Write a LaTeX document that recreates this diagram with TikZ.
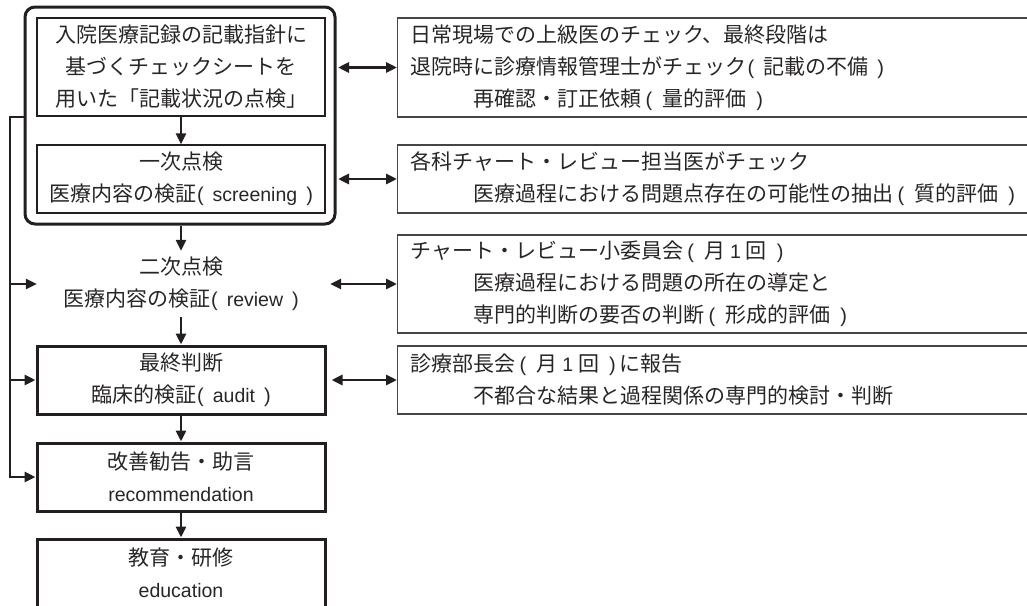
\documentclass[tikz,border=0pt]{standalone}
\usepackage{fontspec}
\setmainfont{Noto Sans CJK JP}
\newfontfamily\lat{Liberation Sans}
\usetikzlibrary{arrows.meta}
\definecolor{ink}{RGB}{35,31,32}
\definecolor{txt}{RGB}{40,37,38}
\definecolor{rline}{RGB}{70,68,68}
\newcommand{\la}[1]{{\lat\fontsize{19.5}{32}\selectfont #1}}
% parenthesised group, spaced as in the reference
\newcommand{\pp}[1]{\kern4pt{\lat\fontsize{20}{32}\selectfont(}\kern10pt #1\kern10pt{\lat\fontsize{20}{32}\selectfont)}\kern4pt}
\newcommand{\pq}[1]{\kern1pt{\lat\fontsize{20}{32}\selectfont(}\kern9pt #1\kern9pt{\lat\fontsize{20}{32}\selectfont)}}
\begin{document}
\begin{tikzpicture}[x=1pt,y=-1pt,
  every node/.style={text=txt, font=\fontsize{21}{32}\selectfont, inner sep=0pt},
  lbox/.style={draw=ink, line width=1.3pt, minimum width=288pt, align=center},
  tbox/.style={draw=ink, line width=3pt, minimum width=288pt, align=center},
  nbox/.style={minimum width=288pt, align=center},
  rbox/.style={draw=rline, line width=1.3pt, anchor=west, text width=622pt, inner xsep=13pt, align=left},
  arr/.style={draw=ink, line width=2.8pt, -{Triangle[length=11pt,width=10pt]}},
  darr/.style={draw=ink, line width=2.8pt, {Triangle[length=11pt,width=10pt]}-{Triangle[length=11pt,width=10pt]}}
]
\useasboundingbox (0,0) rectangle (1027,605);
\clip (0,0) rectangle (1027,605);

% left column
\node[draw=ink, line width=3pt, rounded corners=10pt, minimum width=310pt, minimum height=217pt] (outer) at (180,115.5) {};
\node[lbox, minimum height=98pt] (b1) at (181,67) {入院医療記録の記載指針に\\基づくチェックシートを\\用いた「記載状況の点検」};
\node[lbox, minimum height=68pt] (b2) at (181,179) {一次点検\\医療内容の検証\pq{\la{screening}}};
\node[nbox, minimum height=66pt] (b3) at (181,284) {二次点検\\医療内容の検証\pq{\la{review}}};
\node[tbox, minimum height=68pt] (b4) at (181,380) {最終判断\\臨床的検証\pq{\la{audit}}};
\node[tbox, minimum height=68pt] (b5) at (181,477) {改善勧告・助言\\\la{recommendation}};
\node[tbox, minimum height=68pt] (b6) at (181,573) {教育・研修\\\la{education}};

% right column
\node[rbox, minimum height=99pt] (r1) at (397,67.5) {日常現場での上級医のチェック、最終段階は\\退院時に診療情報管理士がチェック\pq{記載の不備}\\\hspace*{3em}再確認・訂正依頼\pp{量的評価}};
\node[rbox, minimum height=68pt] (r2) at (397,179) {各科チャート・レビュー担当医がチェック\\\hspace*{3em}医療過程における問題点存在の可能性の抽出\pp{質的評価}};
\node[rbox, minimum height=98pt] (r3) at (397,284) {チャート・レビュー小委員会\pp{月\kern5pt\la{1}\kern5pt 回}\\\hspace*{3em}医療過程における問題の所在の導定と\\\hspace*{3em}専門的判断の要否の判断\pp{形成的評価}};
\node[rbox, minimum height=68pt] (r4) at (397,380) {診療部長会\pp{月\kern5pt\la{1}\kern5pt 回}に報告\\\hspace*{3em}不都合な結果と過程関係の専門的検討・判断};

% vertical flow
\draw[arr] (b1.south) -- (b2.north);
\draw[arr] (outer.south -| b3.north) -- (b3.north);
\draw[arr] (b3.south) -- (b4.north);
\draw[arr] (b4.south) -- (b5.north);
\draw[arr] (b5.south) -- (b6.north);

% feedback line on the left
\coordinate (lt) at (10,117);
\coordinate (lb) at (10,477);
\draw[arr] (outer.west |- lt) -- (lt) -- (lb) -- (b5.west);
\draw[arr] (lt |- b3.west) -- (b3.west);
\draw[arr] (lt |- b4.west) -- (b4.west);

% double arrows to the right boxes
\draw[darr] ([xshift=1.5pt]outer.east |- r1.west) -- (r1.west);
\draw[darr] ([xshift=1.5pt]outer.east |- r2.west) -- (r2.west);
\draw[darr] ([xshift=5pt]b3.east |- r3.west) -- (r3.west);
\draw[darr] ([xshift=5pt]b4.east |- r4.west) -- (r4.west);
\end{tikzpicture}
\end{document}
